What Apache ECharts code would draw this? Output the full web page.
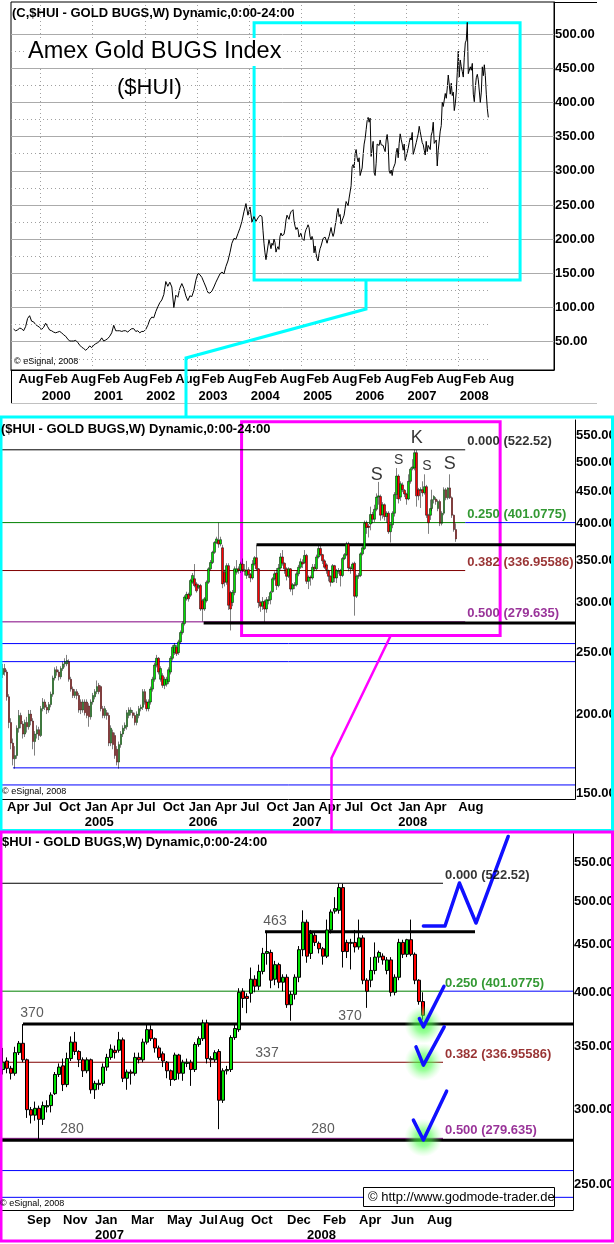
<!DOCTYPE html>
<html>
<head>
<meta charset="utf-8">
<title>Amex Gold BUGS Index ($HUI)</title>
<script src="https://cdn.jsdelivr.net/npm/echarts@6/dist/echarts.min.js"></script>
<style>
html,body{margin:0;padding:0;background:#ffffff;}
#chart{width:614px;height:1244px;}
</style>
</head>
<body>
<div id="chart"></div>
<script>
// ===================== DATA =====================
// Panel 1: bi-weekly closes Jun 1999 - Mar 2004 (before the weekly bars start)
const p1EarlyStart = '1999-06-28';
const p1EarlyCloses = [
  68.5,66,67,70,69,66,72,84,88,80, 79,75,73,71,68,71,77,72,67,66,
  64,63,64,65,63,60,58,54,51,51, 51,52,49,45,42,40,37.5,40,43.8,41.4,
  44.8,47,48.6,51,55.6,51,52.5,54.5,58,63, 74,66,66,66,65,66,66,64,67,69,
  69,65,66,63,65,65,68,74,82,86, 85,94,101,107,111,119,138,131,137,130,
  100,118,115,128,135,128,117,110,117,116, 125,140,150,148,144,137,130,122,121,124,
  130,137,143,149,152,149,160,168,180,194, 201,200,208,216,226,240,252,235,247,225,
  233,226,231,235
];
// Weekly bars from 2004-03-22 (Mondays): [open, close, low, high]
const weekStart = '2004-03-22';
const weeklyOHLC = [
  [231,236,228,240],[236,233,230,240],[233,213,210,235],[213,194,190,215],[194,180,176,197],
  [180,170,166,183],[170,172,164,178],[172,190,170,192],[190,199,187,203],[199,193,190,201],
  [193,186,183,195],[186,194,184,196],[194,191,187,198],[191,200,189,203],[200,195,192,203],
  [195,181,176,197],[181,186,172,188],[186,189,183,192],[189,185,182,191],[185,204,184,206],
  [204,209,202,212],[209,205,203,211],[205,203,200,207],[203,207,201,209],[207,215,205,217],
  [215,228,213,230],[228,235,226,237],[235,233,230,238],[233,229,226,235],[229,236,227,238],
  [236,240,234,242],[240,242,237,245],[240,243,238,248],[242,227,225,244],[227,219,217,229],
  [219,214,212,221],[214,217,212,219],[217,214,211,219],[214,203,201,216],[209,203,200,211],
  [203,209,201,211],[209,201,199,211],[209,199,197,211],[206,198,191,208],[198,209,196,211],
  [209,214,207,216],[213,217,211,219],[217,221,215,226],[222,217,215,224],[221,204,202,222],
  [204,199,197,206],[199,204,197,206],[201,199,196,203],[199,180,178,201],[180,190,178,192],
  [187,179,176,189],[185,172,170,187],[176,168,166,178],[168,179,164,181],[179,186,177,188],
  [186,190,184,192],[190,192,188,194],[191,201,189,203],[199,203,197,205],[201,203,199,205],
  [201,199,197,203],[199,194,192,201],[194,200,192,202],[199,204,197,206],[204,205,202,207],
  [205,217,203,219],[217,209,207,219],[209,204,202,211],[204,209,202,211],[209,219,207,221],
  [219,227,217,229],[227,239,225,241],[239,245,237,248],[245,233,231,246],[227,236,225,238],
  [230,222,220,232],[222,227,219,229],[223,227,221,229],[225,235,223,237],[233,245,231,247],
  [245,255,243,257],[250,257,248,259],[255,249,247,257],[250,260,248,262],[260,269,258,271],
  [269,278,267,280],[278,306,276,308],[304,309,302,312],[309,304,301,311],[308,325,306,327],
  [323,331,321,334],[327,319,317,345],[321,313,311,323],[317,319,315,321],[319,293,291,321],
  [302,293,280,304],[293,304,291,306],[302,323,300,325],[323,339,321,341],[339,347,337,350],
  [347,360,345,362],[360,373,358,375],[373,378,371,381],[376,371,366,401],[371,377,368,381],
  [366,321,316,370],[335,323,318,338],[323,343,320,346],[343,297,292,346],[311,293,271,313],
  [300,311,296,314],[311,339,308,342],[335,339,332,350],[339,337,333,342],[337,345,334,348],
  [345,338,335,352],[338,336,331,345],
  // from 2006-07-24 (panel 3 range)
  [331,337,327,349],[338,332,328,341],[332,328,323,334],[328,345,326,350],[345,353,343,355],
  [353,339,337,370],[339,300,294,340],[300,296,290,302],[296,301,292,306],[301,293,279,303],
  [293,303,289,306],[302,303,298,307],[303,311,298,313],[312,327,311,329],[327,333,325,336],
  [334,319,314,340],[319,340,317,345],[340,354,338,359],[354,346,343,363],[346,339,333,347],
  [339,330,325,341],[330,339,328,341],[339,315,312,340],[315,320,308,322],[319,320,315,323],
  [320,333,318,336],[333,341,330,344],[341,348,339,352],[347,345,340,351],[347,356,345,363],
  [356,324,321,358],[324,329,315,331],[329,328,319,331],[328,341,326,345],[341,339,336,345],
  [339,354,337,357],[354,365,352,370],[365,357,355,369],[357,349,345,358],[349,341,339,351],
  [344,338,333,346],[337,330,324,338],[330,323,318,331],[323,343,322,345],[343,328,323,344],
  [328,337,322,339],[336,337,333,340],[337,331,318,339],[331,352,329,354],[352,357,350,359],
  [357,371,355,374],[371,340,336,374],[340,339,333,342],[339,345,337,347],[346,307,286,348],
  [307,330,305,332],[330,331,327,334],[331,358,329,360],[358,366,356,370],[365,400,363,404],
  [401,394,385,404],[396,394,380,399],[399,413,390,425],[413,406,400,417],[406,421,402,428],
  [421,440,418,446],[440,442,428,465],[441,412,404,444],[413,428,407,432],[428,410,404,430],
  [410,415,401,418],[415,388,385,418],[388,398,373,401],[398,415,393,418],[415,444,410,448],
  [444,475,437,489],[475,437,430,478],[440,462,434,466],[460,452,448,464],[451,445,440,453],
  [445,437,428,447],[437,466,435,478],[466,487,462,490],[488,491,485,505],[489,517,485,522.52],
  [517,442,425,522],[452,442,435,455],[451,452,423,456],[452,447,441,466],[447,457,444,478],
  [457,412,408,460],[412,401,385,414],[412,422,405,436],[422,436,418,452],[436,441,430,443],
  [437,433,428,440],[422,433,418,436],[433,400,396,436],[400,415,397,418],[415,452,412,456],
  [452,439,435,455],[439,455,436,456],[455,439,437,478],[439,412,408,441],[412,391,388,413],
  [391,378.04,374,400]
];
const lastClose = 378.04;

// Axis ticks / labels
const p1YTicks = [50,100,150,200,250,300,350,400,450,500];
const p1MinorGrid = [25,75,125,175,225,275,325,375,425,475];
const p1XTicks = ['1999-08-01','2000-02-01','2000-08-01','2001-02-01','2001-08-01','2002-02-01','2002-08-01',
  '2003-02-01','2003-08-01','2004-02-01','2004-08-01','2005-02-01','2005-08-01','2006-02-01','2006-08-01',
  '2007-02-01','2007-08-01','2008-02-01','2008-08-01'];
const p1YearTicks = ['2000-02-01','2001-02-01','2002-02-01','2003-02-01','2004-02-01','2005-02-01','2006-02-01','2007-02-01','2008-02-01'];
const p1YearGrid = ['2000-01-01','2001-01-01','2002-01-01','2003-01-01','2004-01-01','2005-01-01','2006-01-01','2007-01-01','2008-01-01'];
const p2YTicks = [150,200,250,300,350,400,450,500,550];
const p3YTicks = [250,300,350,400,450,500,550];
const p2MonthTicks = ['2004-04','2004-07','2004-10','2005-01','2005-04','2005-07','2005-10','2006-01','2006-04',
  '2006-07','2006-10','2007-01','2007-04','2007-07','2007-10','2008-01','2008-04','2008-08'];
const p2YearTicks = ['2005-01','2006-01','2007-01','2008-01'];
const p3MonthTicks = ['2006-09','2006-11','2007-01','2007-03','2007-05','2007-07','2007-08','2007-10','2007-12',
  '2008-02','2008-04','2008-06','2008-08'];
const p3YearTicks = ['2007-01','2008-01'];

// Fibonacci retracement & support levels
const fibRatios = [0, 0.25, 0.382, 0.5];
const fibValues = [522.52, 401.0775, 336.95586, 279.635];
const level463 = 464, level370 = 370, level280 = 278.4;
const blueLevels = [258.4, 242, 164.5, 154.6];

// Annotations in data units (week index / date, price)
const p1ZoomBox = [['2004-02-03', 140.2], ['2009-03-07', 516.5]];
const p2ZoomBox = [[119.5, 266.2], [249, 578.7]];
const p2BigLetters = [[207.2, 545.4, 'K'], [187.2, 476.8, 'S'], [223.8, 495.7, 'S']];
const p2SmallLetters = [[198.2, 503.5, 'S'], [212.3, 493.2, 'S']];
const p3LevelNotes = [[68, 476, '463'], [7.25, 380, '370'], [86.75, 377.3, '370'], [66, 344.4, '337'], [17.25, 285.8, '280'], [80, 285.8, '280']];
const p3Zigzag = [[105.1,470.6],[110.5,470.6],[114.1,522.8],[118.25,474],[126.3,586]];
const p3Checks = [
  [[104.1,375],[105.1,367.5],[110.25,406]],
  [[103.25,349.9],[105.1,334.6],[110.3,367.5]],
  [[102.6,292.4],[105.1,278.5],[110.9,313.9]]
];
const p3Glows = [[105.1,369.6],[105.1,337],[105.1,280]];

// ===================== BUILD =====================
const FONT = "'Liberation Sans', Arial, Helvetica, sans-serif";
const MONTHS = ['Jan','Feb','Mar','Apr','May','Jun','Jul','Aug','Sep','Oct','Nov','Dec'];
const DAY = 864e5;
const toTs = s => Date.parse(s + 'T00:00:00Z');
const weekTs = k => toTs(weekStart) + k * 7 * DAY;
const fmtDate = ts => new Date(ts).toISOString().slice(0, 10);

const N2 = 287, P3_START = 122, N3 = 143;
const weeks = Array.from({length: N2}, (_, k) => fmtDate(weekTs(k)));
const p3Weeks = weeks.slice(P3_START, P3_START + N3);
const p3OHLC = weeklyOHLC.slice(P3_START);

const p1Line = p1EarlyCloses.map((v, k) => [toTs(p1EarlyStart) + k * 14 * DAY, v])
  .concat(weeklyOHLC.map((d, i) => [weekTs(i), d[1]]));
const p1LastTs = p1Line[p1Line.length - 1][0];
const P1_MIN = toTs('1999-06-10'), P1_MAX = toTs('2009-10-30');
// year row is centred under its "Feb" label: shift that label axis by about half a label width
const YEAR_SHIFT = 80 * DAY;

function buildLabels(cats, monthTicks, yearTicks) {
  return cats.map((c, k) => {
    const ym = c.slice(0, 7);
    const first = k === 0 || cats[k - 1].slice(0, 7) !== ym;
    if (!first) return '';
    const showM = monthTicks.includes(ym), showY = yearTicks.includes(ym);
    if (!showM && !showY) return '';
    return (showM ? MONTHS[+c.slice(5, 7) - 1] : '') + (showY ? '\n' + c.slice(0, 4) : '');
  });
}
const p2Labels = buildLabels(weeks, p2MonthTicks, p2YearTicks);
const p3Labels = buildLabels(p3Weeks, p3MonthTicks, p3YearTicks);

const boldLabel = {fontFamily: FONT, fontSize: 13, fontWeight: 'bold', color: '#000'};
const fibColors = ['#000000', '#008000', '#800000', '#800080'];
const BLUE = '#0000ff';

function hline(xa, ya, x0, x1, v, color, width, z) {
  return {type: 'line', xAxisIndex: xa, yAxisIndex: ya, data: [[x0, v], [x1, v]], symbol: 'none',
    silent: true, animation: false, z: z || 2, lineStyle: {color: color, width: width}};
}
function textSeries(xa, ya, items, fontSize, weight, color, pos, offset, z) {
  return {type: 'scatter', xAxisIndex: xa, yAxisIndex: ya, symbol: 'circle', symbolSize: 0.1, silent: true,
    animation: false, z: z || 8, itemStyle: {color: 'rgba(0,0,0,0)'},
    data: items.map(it => ({value: [it[0], it[1]], label: {show: true, formatter: it[2], position: pos,
      distance: 2, offset: offset || [0, 0], fontFamily: FONT, fontSize: fontSize, fontWeight: weight, color: it[3] || color}}))};
}
function priceTag(bg) {
  return {symbol: 'none', silent: true, animation: false,
    data: [{yAxis: lastClose, lineStyle: {opacity: 0},
      label: {show: true, position: 'end', distance: 1, formatter: lastClose.toFixed(2), backgroundColor: bg,
        color: '#fff', fontFamily: FONT, fontWeight: 'bold', fontSize: 13, lineHeight: 13, padding: [1, 1, 0, 1]}}]};
}

const series = [];
// ---------- Panel 1 ----------
series.push({
  type: 'line', xAxisIndex: 0, yAxisIndex: 0, data: p1Line, symbol: 'none', silent: true, animation: false, z: 3,
  lineStyle: {color: '#000', width: 1},
  markArea: {silent: true, animation: false,
    itemStyle: {color: 'rgba(0,0,0,0)', borderColor: '#00ffff', borderWidth: 3},
    data: [[{coord: [toTs(p1ZoomBox[0][0]), p1ZoomBox[0][1]]}, {coord: [toTs(p1ZoomBox[1][0]), p1ZoomBox[1][1]]}]]},
  markLine: {symbol: 'none', silent: true, animation: false, label: {show: false},
    lineStyle: {color: '#a0a0a0', type: [1, 3], width: 1},
    data: p1MinorGrid.map(v => [{coord: [P1_MIN, v]}, {coord: [p1LastTs, v]}])
      .concat(p1YearGrid.map(d => [{coord: [toTs(d), 8.6]}, {coord: [toTs(d), 546.8]}]))
      .concat(priceTag('#000').data)}
});

// ---------- Panel 2 ----------
const P2R = N2 - 0.5, P2FIB = 231.5;
fibValues.forEach((v, f) => series.push(hline(2, 1, -0.5, P2FIB, v, fibColors[f], 1)));
series.push(hline(2, 1, P2FIB, P2R, fibValues[1], BLUE, 1));
series.push(hline(2, 1, -0.5, P2R, blueLevels[0], BLUE, 1));
series.push(hline(2, 1, -0.5, P2R, blueLevels[1], BLUE, 1));
series.push(hline(2, 1, 5, P2R, blueLevels[2], BLUE, 1));
series.push(hline(2, 1, -0.5, P2R, blueLevels[3], BLUE, 1));
series.push(hline(2, 1, 127, P2R, level370, '#000', 3));
series.push(hline(2, 1, 100.5, P2R, level280, '#000', 3));
series.push(Object.assign(hline(2, 1, -0.5, -0.5, fibValues[0], 'rgba(0,0,0,0)', 0), {
  markArea: {silent: true, animation: false,
    itemStyle: {color: 'rgba(0,0,0,0)', borderColor: '#ff00ff', borderWidth: 3},
    data: [[{coord: p2ZoomBox[0]}, {coord: p2ZoomBox[1]}]]}, z: 9}));
series.push({
  type: 'candlestick', xAxisIndex: 1, yAxisIndex: 1, data: weeklyOHLC, barWidth: 2, silent: true, animation: false, z: 4,
  itemStyle: {color: '#00e000', color0: '#ff0000', borderColor: '#000', borderColor0: '#000', borderWidth: 0.5},
  markLine: priceTag('#ff0000')
});
series.push(textSeries(2, 1, fibValues.map((v, f) => [P2FIB, v, fibRatios[f].toFixed(3) + ' (' + v + ')', fibColors[f]]),
  13, 'bold', '#000', 'right', [0, -8]));
series.push(textSeries(2, 1, p2BigLetters, 18, 'normal', '#000', 'inside'));
series.push(textSeries(2, 1, p2SmallLetters, 14, 'normal', '#000', 'inside'));

// ---------- Panel 3 ----------
const P3R = N3 - 0.5, P3FIB = 110;
fibValues.forEach((v, f) => series.push(hline(4, 2, -0.5, P3FIB, v, fibColors[f], 1)));
series.push(hline(4, 2, P3FIB, P3R, fibValues[1], BLUE, 1));
series.push(hline(4, 2, -0.5, P3R, blueLevels[0], BLUE, 1));
series.push(hline(4, 2, -0.5, P3R, blueLevels[1], BLUE, 1));
series.push(hline(4, 2, 5, P3R, level370, '#000', 3));
series.push(hline(4, 2, -0.5, P3R, level280, '#000', 3));
series.push(hline(4, 2, 65.5, 118, level463, '#000', 3));
series.push({
  type: 'candlestick', xAxisIndex: 3, yAxisIndex: 2, data: p3OHLC, barWidth: 3, silent: true, animation: false, z: 4,
  itemStyle: {color: '#00e000', color0: '#ff0000', borderColor: '#000', borderColor0: '#000', borderWidth: 1},
  markLine: priceTag('#ff0000')
});
series.push({type: 'scatter', xAxisIndex: 4, yAxisIndex: 2, data: p3Glows, symbolSize: 38, silent: true, animation: false, z: 5,
  itemStyle: {color: {type: 'radial', x: 0.5, y: 0.5, r: 0.5, colorStops: [
    {offset: 0, color: 'rgba(40,255,40,0.95)'}, {offset: 0.45, color: 'rgba(80,255,80,0.7)'}, {offset: 1, color: 'rgba(150,255,150,0)'}]}}});
p3Checks.concat([p3Zigzag]).forEach(pts => series.push({type: 'line', xAxisIndex: 4, yAxisIndex: 2, data: pts, symbol: 'none',
  silent: true, animation: false, z: 6, lineStyle: {color: '#1010ff', width: 3.5, cap: 'round', join: 'round'}}));
series.push(textSeries(4, 2, fibValues.map((v, f) => [P3FIB, v, fibRatios[f].toFixed(3) + ' (' + v + ')', fibColors[f]]),
  13, 'bold', '#000', 'right', [0, -8]));
series.push(textSeries(4, 2, p3LevelNotes, 14, 'normal', '#333', 'inside'));

// ---------- Axes ----------
const xAxis = [
  {type: 'value', gridIndex: 0, min: P1_MIN, max: P1_MAX, scale: true, position: 'bottom',
    axisLine: {show: true, onZero: false, lineStyle: {color: '#000', width: 1}},
    axisTick: {show: false}, splitLine: {show: false},
    axisLabel: Object.assign({show: true, customValues: p1XTicks.map(toTs), align: 'left', margin: 3,
      hideOverlap: false, showMaxLabel: true, showMinLabel: true,
      formatter: v => MONTHS[new Date(v).getUTCMonth()]}, boldLabel)},
  {type: 'category', gridIndex: 1, data: weeks, boundaryGap: true,
    axisLine: {show: true, onZero: false, lineStyle: {color: '#000'}}, axisTick: {show: false}, splitLine: {show: false},
    axisLabel: Object.assign({interval: i => p2Labels[i] !== '', formatter: (v, i) => p2Labels[i], align: 'left', margin: 1,
      lineHeight: 15, hideOverlap: false}, boldLabel)},
  {type: 'value', gridIndex: 1, min: -0.5, max: P2R, show: false},
  {type: 'category', gridIndex: 2, data: p3Weeks, boundaryGap: true,
    axisLine: {show: true, onZero: false, lineStyle: {color: '#000'}}, axisTick: {show: false}, splitLine: {show: false},
    axisLabel: Object.assign({interval: i => p3Labels[i] !== '', formatter: (v, i) => p3Labels[i], align: 'left', margin: 3,
      lineHeight: 15, hideOverlap: false}, boldLabel)},
  {type: 'value', gridIndex: 2, min: -0.5, max: P3R, show: false},
  // panel 1 year row
  {type: 'value', gridIndex: 0, min: P1_MIN - YEAR_SHIFT, max: P1_MAX - YEAR_SHIFT, scale: true, position: 'bottom', offset: 17,
    axisLine: {show: false}, axisTick: {show: false}, splitLine: {show: false},
    axisLabel: Object.assign({show: true, customValues: p1YearTicks.map(toTs), align: 'center', margin: 3,
      hideOverlap: false, showMaxLabel: true, showMinLabel: true,
      formatter: v => String(new Date(v).getUTCFullYear())}, boldLabel)}
];
const yAxis = [
  {type: 'value', gridIndex: 0, position: 'right', min: 8.6, max: 546.8,
    axisLine: {show: true, onZero: false, lineStyle: {color: '#000'}},
    axisTick: {show: false, customValues: p1YTicks},
    splitLine: {show: true, lineStyle: {color: '#ababab', width: 1}},
    axisLabel: Object.assign({customValues: p1YTicks, formatter: v => (+v).toFixed(2), margin: 1, hideOverlap: false}, boldLabel)},
  {type: 'log', gridIndex: 1, position: 'right', min: 146.9, max: 582.3, logBase: 10,
    axisLine: {show: true, onZero: false, lineStyle: {color: '#000'}},
    axisTick: {show: false, customValues: p2YTicks}, splitLine: {show: false}, minorSplitLine: {show: false},
    axisLabel: Object.assign({customValues: p2YTicks, formatter: v => (+v).toFixed(2), margin: 1, hideOverlap: false}, boldLabel)},
  {type: 'log', gridIndex: 2, position: 'right', min: 234.6, max: 591, logBase: 10,
    axisLine: {show: true, onZero: false, lineStyle: {color: '#000'}},
    axisTick: {show: false, customValues: p3YTicks}, splitLine: {show: false}, minorSplitLine: {show: false},
    axisLabel: Object.assign({customValues: p3YTicks, formatter: v => (+v).toFixed(2), margin: 1, hideOverlap: false}, boldLabel)}
];
const grid = [
  {left: 11, top: 2, width: 543, height: 368, show: true, borderColor: '#000', borderWidth: 1, backgroundColor: '#fff', containLabel: false, outerBoundsMode: 'none'},
  {left: 2, top: 420, width: 573, height: 379, show: false, containLabel: false, outerBoundsMode: 'none'},
  {left: 1, top: 833, width: 572, height: 377, show: false, containLabel: false, outerBoundsMode: 'none'}
];

// ---------- Static decorations (frames, titles, connectors) ----------
function gtext(x, y, text, font, fill, extra) {
  return {type: 'text', x: x, y: y, z: 100, silent: true,
    style: Object.assign({text: text, font: font, fill: fill || '#000', textAlign: 'left', align: 'left',
      textVerticalAlign: 'middle', verticalAlign: 'middle'}, extra || {})};
}
const BOLD13 = 'bold 13px ' + FONT;
const graphic = [
  {type: 'line', z: 60, silent: true, shape: {x1: 554, y1: 2.5, x2: 597, y2: 2.5}, style: {stroke: '#000', lineWidth: 1}},
  {type: 'line', z: 60, silent: true, shape: {x1: 11.5, y1: 370, x2: 11.5, y2: 403}, style: {stroke: '#000', lineWidth: 1}},
  {type: 'line', z: 60, silent: true, shape: {x1: 11, y1: 403.5, x2: 597, y2: 403.5}, style: {stroke: '#c0c0c0', lineWidth: 1}},
  {type: 'rect', z: 70, silent: true, shape: {x: 1, y: 417, width: 611.5, height: 413.5}, style: {fill: 'none', stroke: '#00ffff', lineWidth: 3}},
  {type: 'rect', z: 71, silent: true, shape: {x: 1, y: 832, width: 611.5, height: 409}, style: {fill: 'none', stroke: '#ff00ff', lineWidth: 3}},
  {type: 'polyline', z: 72, silent: true, shape: {points: [[366, 281], [366, 309], [186, 358], [186, 417]]}, style: {stroke: '#00ffff', lineWidth: 3, fill: 'none'}},
  {type: 'polyline', z: 72, silent: true, shape: {points: [[390.5, 636], [331.5, 758], [331.5, 832]]}, style: {stroke: '#ff00ff', lineWidth: 2.5, fill: 'none'}},
  gtext(12, 13, '(C,$HUI - GOLD BUGS,W) Dynamic,0:00-24:00', BOLD13),
  gtext(26, 52, 'Amex Gold BUGS Index', '23.5px ' + FONT, '#000', {backgroundColor: '#fff', padding: [2, 2, 2, 2]}),
  gtext(117, 88, '($HUI)', '22px ' + FONT),
  gtext(14, 362, '\u00a9 eSignal, 2008', '9px ' + FONT),
  gtext(1, 429, '($HUI - GOLD BUGS,W) Dynamic,0:00-24:00', BOLD13),
  gtext(2, 792, '\u00a9 eSignal, 2008', '9px ' + FONT),
  gtext(2, 842, '$HUI - GOLD BUGS,W) Dynamic,0:00-24:00', BOLD13),
  gtext(0, 1204, '\u00a9 eSignal, 2008', '9px ' + FONT),
  {type: 'rect', z: 99, silent: true, shape: {x: 363.5, y: 1187.5, width: 191, height: 19}, style: {fill: '#fff', stroke: '#000', lineWidth: 1}},
  gtext(368, 1197, '\u00a9 http://www.godmode-trader.de', '13px ' + FONT)
];

const chart = echarts.init(document.getElementById('chart'), null, {renderer: 'canvas'});
chart.setOption({
  animation: false,
  backgroundColor: '#ffffff',
  grid: grid, xAxis: xAxis, yAxis: yAxis, series: series, graphic: graphic
});
</script>
</body>
</html>
